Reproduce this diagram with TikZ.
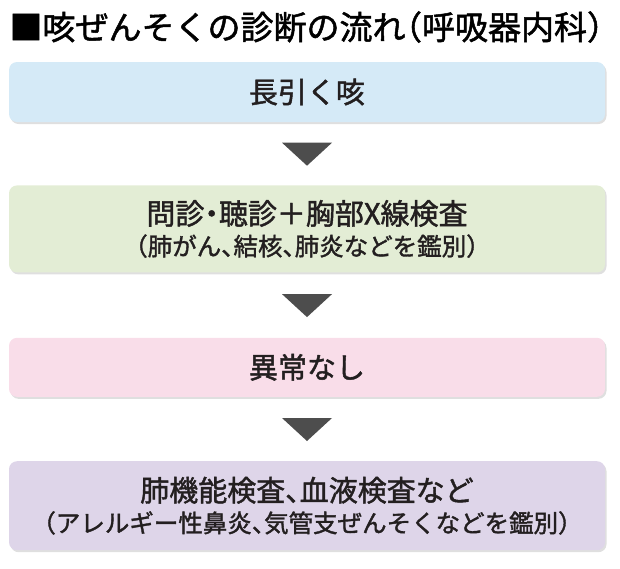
\documentclass[tikz,border=0pt]{standalone}
\usepackage{fontspec}
\newfontfamily\jp[RawFeature=+halt, FakeBold=1.5]{Noto Sans CJK JP}
\usetikzlibrary{positioning}
\usetikzlibrary{shadows}
\definecolor{boxblue}{RGB}{213,234,247}
\definecolor{boxgreen}{RGB}{227,237,213}
\definecolor{boxpink}{RGB}{249,221,233}
\definecolor{boxlilac}{RGB}{222,213,233}
\definecolor{arrowgray}{RGB}{77,77,77}
\definecolor{textgray}{RGB}{35,31,32}
\tikzset{	node distance=63pt,
	flow/.style={
		rounded corners=8pt,
		minimum width=596pt,
		inner sep=0pt,
		align=center,
		text=textgray,
		font=\jp\fontsize{29pt}{34pt}\selectfont,
		drop shadow={shadow xshift=1.5pt, shadow yshift=-2pt, opacity=0.25}},
	downtri/.style={fill=arrowgray}
}

\begin{document}
\begin{tikzpicture}
	\useasboundingbox (0,0) rectangle (620pt,-568pt);
	\node[anchor=west, text=black, font=\jp\fontsize{33pt}{34pt}\selectfont] (title) at (6pt,-27pt) {■咳ぜんそくの診断の流れ（呼吸器内科）};
	\node[flow, fill=boxblue, minimum height=60pt] (cough) at (307pt,-92pt) {長引く咳};
	\node[flow, fill=boxgreen, minimum height=87pt, below=of cough] (exam) {問診・聴診＋胸部X線検査\\[-3pt]{\fontsize{24.5pt}{28pt}\selectfont（肺がん、結核、肺炎などを鑑別）}};
	\node[flow, fill=boxpink, minimum height=59pt, below=65pt of exam] (normal) {異常なし};
	\node[flow, fill=boxlilac, minimum height=89pt, below=64pt of normal] (lung) {肺機能検査、血液検査など\\[-3pt]{\fontsize{24.5pt}{28pt}\selectfont（アレルギー性鼻炎、気管支ぜんそくなどを鑑別）}};
	\path (cough.south) -- coordinate[midway] (m1) (exam.north);
	\path (exam.south) -- coordinate[midway] (m2) (normal.north);
	\path (normal.south) -- coordinate[midway] (m3) (lung.north);
	\fill[downtri] (m1) +(-25pt,11pt) -- +(25pt,11pt) -- +(0pt,-12pt) -- cycle;
	\fill[downtri] (m2) +(-25pt,11pt) -- +(25pt,11pt) -- +(0pt,-12pt) -- cycle;
	\fill[downtri] (m3) +(-25pt,11pt) -- +(25pt,11pt) -- +(0pt,-12pt) -- cycle;
\end{tikzpicture}
\end{document}
